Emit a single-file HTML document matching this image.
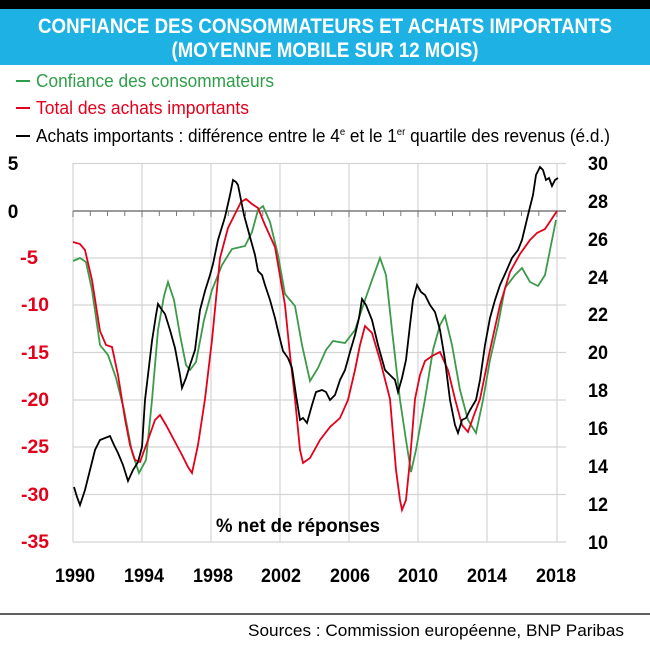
<!DOCTYPE html>
<html><head><meta charset="utf-8"><style>
html,body{margin:0;padding:0;background:#fff;}
svg{display:block;font-family:"Liberation Sans",Arial,sans-serif;}
</style></head><body>
<svg width="650" height="645" viewBox="0 0 650 645" xmlns="http://www.w3.org/2000/svg">
<rect x="0" y="0" width="650" height="645" fill="#fff"/>
<rect x="0" y="0" width="650" height="9" fill="#000"/>
<rect x="0" y="9" width="650" height="56" fill="#1EB2E4"/>
<text x="325" y="33" fill="#fff" font-size="21" font-weight="bold" text-anchor="middle" textLength="574" lengthAdjust="spacingAndGlyphs">CONFIANCE DES CONSOMMATEURS ET ACHATS IMPORTANTS</text>
<text x="325" y="57" fill="#fff" font-size="21" font-weight="bold" text-anchor="middle" textLength="307" lengthAdjust="spacingAndGlyphs">(MOYENNE MOBILE SUR 12 MOIS)</text>
<g font-size="18">
<line x1="16" y1="81" x2="30" y2="81" stroke="#2E9E48" stroke-width="2"/>
<text x="36" y="87" fill="#2E9E48" textLength="238" lengthAdjust="spacingAndGlyphs">Confiance des consommateurs</text>
<line x1="16" y1="108" x2="30" y2="108" stroke="#E3001B" stroke-width="2"/>
<text x="36" y="114" fill="#E3001B" textLength="213" lengthAdjust="spacingAndGlyphs">Total des achats importants</text>
<line x1="16" y1="136" x2="30" y2="136" stroke="#000" stroke-width="2"/>
<text x="36" y="142" fill="#000" textLength="574" lengthAdjust="spacingAndGlyphs">Achats importants : différence entre le 4<tspan font-size="10" dy="-7">e</tspan><tspan dy="7"> et le 1</tspan><tspan font-size="10" dy="-7">er</tspan><tspan dy="7"> quartile des revenus (é.d.)</tspan></text>
</g>
<g stroke="#D4D4D4" stroke-width="1.2">
<line x1="73" y1="163.5" x2="566" y2="163.5"/>
<line x1="73" y1="258" x2="566" y2="258"/>
<line x1="73" y1="305" x2="566" y2="305"/>
<line x1="73" y1="352.5" x2="566" y2="352.5"/>
<line x1="73" y1="400" x2="566" y2="400"/>
<line x1="73" y1="447" x2="566" y2="447"/>
<line x1="73" y1="494.5" x2="566" y2="494.5"/>
<line x1="73" y1="542" x2="566" y2="542"/>
<line x1="73" y1="163" x2="73" y2="542"/>
<line x1="142" y1="163" x2="142" y2="542"/>
<line x1="211" y1="163" x2="211" y2="542"/>
<line x1="280" y1="163" x2="280" y2="542"/>
<line x1="349" y1="163" x2="349" y2="542"/>
<line x1="418" y1="163" x2="418" y2="542"/>
<line x1="487" y1="163" x2="487" y2="542"/>
<line x1="557" y1="163" x2="557" y2="542"/>
</g>
<line x1="73" y1="211" x2="566" y2="211" stroke="#7a7a7a" stroke-width="1.5"/>
<path stroke="#7a7a7a" stroke-width="1" d="M90.3,211v5M107.5,211v5M124.8,211v5M159.3,211v5M176.5,211v5M193.8,211v5M228.3,211v5M245.5,211v5M262.8,211v5M297.3,211v5M314.5,211v5M331.8,211v5M366.3,211v5M383.5,211v5M400.8,211v5M435.3,211v5M452.5,211v5M469.8,211v5M504.3,211v5M521.5,211v5M538.8,211v5M73,211v6M142,211v6M211,211v6M280,211v6M349,211v6M418,211v6M487,211v6M557,211v6"/>
<polyline fill="none" stroke="#3C9A4A" stroke-width="1.8" points="73,261 80,258 86,262 92,290 100,345 108,355 116,378 124,410 132,452 139,473 146,460 152,400 158,330 164,296 168,282 174,300 180,335 186,365 190,370 196,362 204,320 212,290 222,265 232,249 245,246 252,232 258,210 263,206 270,222 278,255 285,294 295,306 302,345 310,381 318,368 326,350 333,341 345,343 355,330 365,300 372,280 380,258 386,275 392,330 400,400 406,440 411,472 416,450 425,399 433,350 440,325 445,316 452,345 460,390 468,420 476,433 483,400 490,360 498,325 505,288 515,275 522,268 530,282 538,286 545,275 550,250 556,220"/>
<polyline fill="none" stroke="#E3001B" stroke-width="1.8" points="73,242 80,244 85,250 92,280 100,331 106,345 112,347 118,375 125,419 130,445 135,460 140,462 148,440 155,420 160,415 166,425 174,440 182,455 188,467 192,473 198,445 205,399 212,340 220,258 228,228 235,214 241,202 246,199 252,204 258,208 265,225 275,247 285,305 290,355 295,399 300,450 303,463 310,458 320,440 330,427 340,418 348,400 355,370 360,345 365,326 372,333 380,360 390,399 396,470 400,500 402,510 406,500 410,460 415,399 420,375 425,361 432,356 440,352 448,370 455,399 462,425 468,432 474,415 480,399 490,350 500,305 510,272 520,254 530,240 537,233 545,229 551,220 557,211"/>
<polyline fill="none" stroke="#000" stroke-width="1.8" points="74,487 77,497 80,505 85,490 90,470 95,450 100,440 105,438 110,436 114,445 118,453 123,465 128,481 133,470 138,462 142,447 145,400 148,375 152,341 156,315 158,304 162,310 165,314 170,330 175,348 180,375 182,388 186,378 190,365 195,350 200,310 205,291 210,275 213,264 218,240 225,217 230,195 233,180 236,182 238,185 241,200 244,215 250,237 255,255 258,271 262,275 265,285 270,300 275,318 279,335 283,351 288,358 292,368 296,395 300,420 303,418 307,423 312,405 316,392 322,390 326,392 330,400 335,395 340,380 345,370 350,352 355,335 359,318 362,299 366,305 372,320 378,345 385,370 390,375 395,380 398,392 402,378 406,360 410,325 413,300 417,285 421,292 425,295 430,305 435,312 440,330 445,360 450,400 455,425 458,433 462,420 466,418 470,410 476,400 480,380 485,345 490,318 495,300 500,285 505,274 512,258 518,250 522,240 528,215 533,195 536,175 540,167 543,170 546,180 549,178 552,186 555,180 558,178"/>
<g font-size="19" font-weight="bold" text-anchor="middle">
<text x="13" y="170" fill="#000">5</text>
<text x="13" y="218" fill="#000">0</text>
<g fill="#E3001B">
<text x="29" y="264" textLength="18" lengthAdjust="spacingAndGlyphs">-5</text>
<text x="35" y="311" textLength="28" lengthAdjust="spacingAndGlyphs">-10</text>
<text x="35" y="359" textLength="28" lengthAdjust="spacingAndGlyphs">-15</text>
<text x="35" y="406" textLength="28" lengthAdjust="spacingAndGlyphs">-20</text>
<text x="35" y="453" textLength="28" lengthAdjust="spacingAndGlyphs">-25</text>
<text x="35" y="501" textLength="28" lengthAdjust="spacingAndGlyphs">-30</text>
<text x="35" y="548" textLength="28" lengthAdjust="spacingAndGlyphs">-35</text>
</g>
<g fill="#000">
<text x="598" y="170" textLength="20" lengthAdjust="spacingAndGlyphs">30</text>
<text x="598" y="208" textLength="20" lengthAdjust="spacingAndGlyphs">28</text>
<text x="598" y="246" textLength="20" lengthAdjust="spacingAndGlyphs">26</text>
<text x="598" y="284" textLength="20" lengthAdjust="spacingAndGlyphs">24</text>
<text x="598" y="321" textLength="20" lengthAdjust="spacingAndGlyphs">22</text>
<text x="598" y="359" textLength="20" lengthAdjust="spacingAndGlyphs">20</text>
<text x="598" y="397" textLength="20" lengthAdjust="spacingAndGlyphs">18</text>
<text x="598" y="435" textLength="20" lengthAdjust="spacingAndGlyphs">16</text>
<text x="598" y="473" textLength="20" lengthAdjust="spacingAndGlyphs">14</text>
<text x="598" y="511" textLength="20" lengthAdjust="spacingAndGlyphs">12</text>
<text x="598" y="549" textLength="20" lengthAdjust="spacingAndGlyphs">10</text>
</g>
</g>
<g font-size="19" font-weight="bold" fill="#000" text-anchor="middle">
<text x="75" y="582" textLength="40" lengthAdjust="spacingAndGlyphs">1990</text>
<text x="144" y="582" textLength="40" lengthAdjust="spacingAndGlyphs">1994</text>
<text x="213" y="582" textLength="40" lengthAdjust="spacingAndGlyphs">1998</text>
<text x="281" y="582" textLength="40" lengthAdjust="spacingAndGlyphs">2002</text>
<text x="350" y="582" textLength="40" lengthAdjust="spacingAndGlyphs">2006</text>
<text x="418" y="582" textLength="40" lengthAdjust="spacingAndGlyphs">2010</text>
<text x="487" y="582" textLength="40" lengthAdjust="spacingAndGlyphs">2014</text>
<text x="556" y="582" textLength="40" lengthAdjust="spacingAndGlyphs">2018</text>
<text x="298" y="532" font-size="19" textLength="164" lengthAdjust="spacingAndGlyphs">% net de réponses</text>
</g>
<line x1="0" y1="614" x2="650" y2="614" stroke="#000" stroke-width="1.2"/>
<text x="624" y="636" font-size="17" text-anchor="end" fill="#000" textLength="376" lengthAdjust="spacingAndGlyphs">Sources : Commission européenne, BNP Paribas</text>
</svg>
</body></html>
